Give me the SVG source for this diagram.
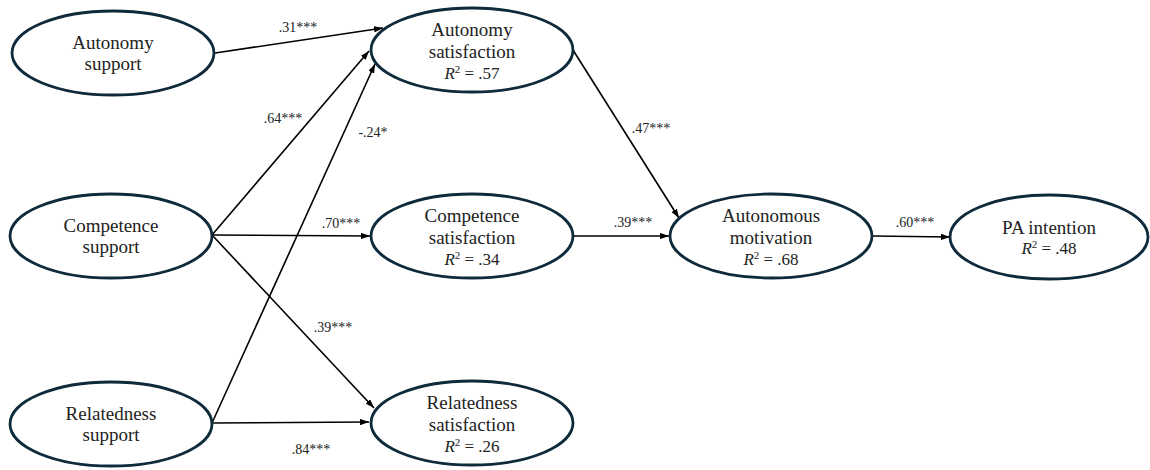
<svg xmlns="http://www.w3.org/2000/svg" width="1150" height="470" viewBox="0 0 1150 470">
<defs>
<marker id="arr" viewBox="0 0 10 7" refX="10" refY="3.5" markerWidth="9" markerHeight="6.3" markerUnits="userSpaceOnUse" orient="auto">
<path d="M0,0 L10,3.5 L0,7 z" fill="#000"/>
</marker>
<style>
.node ellipse{fill:#fff;stroke:#0e2a3b;stroke-width:2.8}
.nt{font-family:"Liberation Serif","Times New Roman",serif;font-size:19px;fill:#222;text-anchor:middle}
.r2{font-family:"Liberation Serif","Times New Roman",serif;font-size:17px;fill:#222;text-anchor:middle}
.lbl{font-family:"Liberation Serif","Times New Roman",serif;font-size:14px;fill:#222;text-anchor:middle}
#connectors line{stroke:#000;stroke-width:1.6;marker-end:url(#arr)}
</style>
</defs>
<rect width="1150" height="470" fill="#fff"/>
<g id="connectors">
<line x1="215" y1="53" x2="383" y2="28"/>
<line x1="212" y1="235" x2="369" y2="51"/>
<line x1="212" y1="423" x2="375" y2="64"/>
<line x1="212" y1="235" x2="370" y2="236"/>
<line x1="212" y1="235" x2="374" y2="408"/>
<line x1="212" y1="423" x2="369" y2="422"/>
<line x1="573" y1="50" x2="679" y2="218"/>
<line x1="573" y1="236" x2="669" y2="236"/>
<line x1="873" y1="236" x2="950" y2="237"/>
</g>
<g id="labels">
<text class="lbl" x="298" y="32">.31***</text>
<text class="lbl" x="283" y="123">.64***</text>
<text class="lbl" x="373" y="137">-.24*</text>
<text class="lbl" x="341" y="228">.70***</text>
<text class="lbl" x="333" y="332">.39***</text>
<text class="lbl" x="311" y="454">.84***</text>
<text class="lbl" x="651" y="133">.47***</text>
<text class="lbl" x="633" y="227">.39***</text>
<text class="lbl" x="915" y="227">.60***</text>
</g>
<g id="autonomy-support" class="node">
<ellipse cx="113" cy="53" rx="101" ry="42"/>
<text class="nt" x="113" y="49">Autonomy</text>
<text class="nt" x="113" y="70">support</text>
</g>
<g id="competence-support" class="node">
<ellipse cx="111" cy="236" rx="101" ry="42"/>
<text class="nt" x="111" y="232">Competence</text>
<text class="nt" x="111" y="253">support</text>
</g>
<g id="relatedness-support" class="node">
<ellipse cx="111" cy="424" rx="101" ry="42"/>
<text class="nt" x="111" y="420">Relatedness</text>
<text class="nt" x="111" y="441">support</text>
</g>
<g id="autonomy-satisfaction" class="node">
<ellipse cx="472" cy="50" rx="101" ry="42"/>
<text class="nt" x="472" y="36">Autonomy</text>
<text class="nt" x="472" y="58">satisfaction</text>
<text class="r2" x="472" y="79"><tspan font-style="italic">R</tspan><tspan font-size="11" dy="-6">2</tspan><tspan dy="6"> = .57</tspan></text>
</g>
<g id="competence-satisfaction" class="node">
<ellipse cx="472" cy="236" rx="101" ry="42"/>
<text class="nt" x="472" y="222">Competence</text>
<text class="nt" x="472" y="244">satisfaction</text>
<text class="r2" x="472" y="265"><tspan font-style="italic">R</tspan><tspan font-size="11" dy="-6">2</tspan><tspan dy="6"> = .34</tspan></text>
</g>
<g id="relatedness-satisfaction" class="node">
<ellipse cx="472" cy="423" rx="101" ry="42"/>
<text class="nt" x="472" y="409">Relatedness</text>
<text class="nt" x="472" y="431">satisfaction</text>
<text class="r2" x="472" y="452"><tspan font-style="italic">R</tspan><tspan font-size="11" dy="-6">2</tspan><tspan dy="6"> = .26</tspan></text>
</g>
<g id="autonomous-motivation" class="node">
<ellipse cx="771" cy="236" rx="101" ry="42"/>
<text class="nt" x="771" y="222">Autonomous</text>
<text class="nt" x="771" y="244">motivation</text>
<text class="r2" x="771" y="265"><tspan font-style="italic">R</tspan><tspan font-size="11" dy="-6">2</tspan><tspan dy="6"> = .68</tspan></text>
</g>
<g id="pa-intention" class="node">
<ellipse cx="1049" cy="237" rx="99" ry="42"/>
<text class="nt" x="1049" y="234">PA intention</text>
<text class="r2" x="1049" y="254"><tspan font-style="italic">R</tspan><tspan font-size="11" dy="-6">2</tspan><tspan dy="6"> = .48</tspan></text>
</g>
</svg>
